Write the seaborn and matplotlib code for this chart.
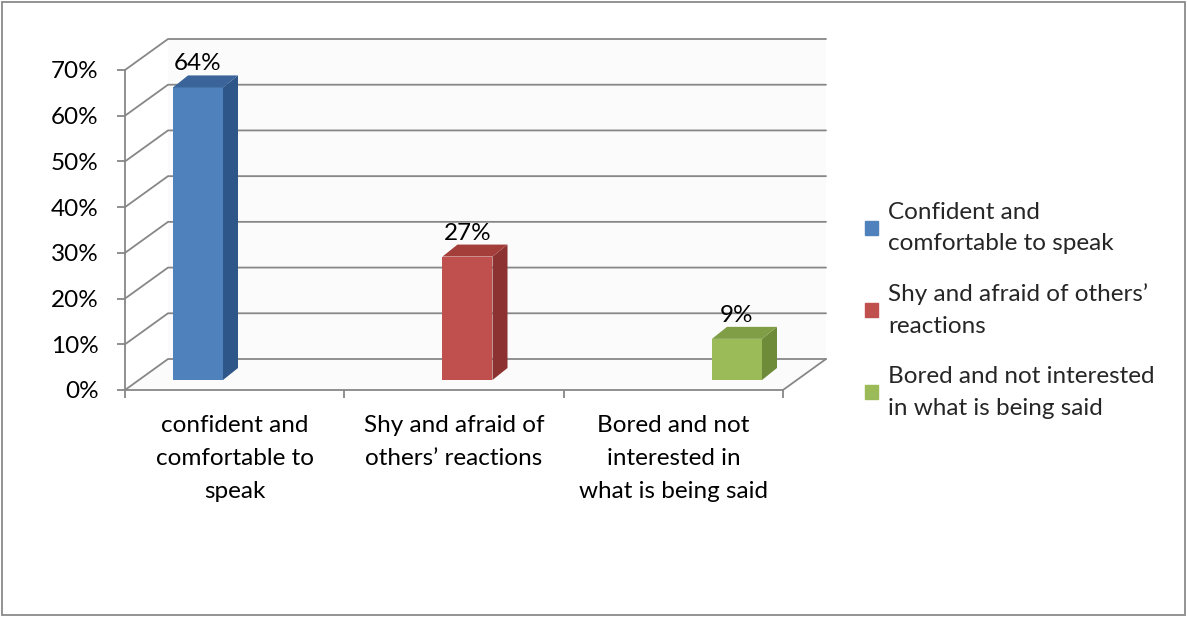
import matplotlib
matplotlib.use("Agg")
import matplotlib.pyplot as plt
import matplotlib.patches as mpatches
from matplotlib.lines import Line2D
from matplotlib.ticker import FixedLocator, FuncFormatter
import seaborn as sns
import pandas as pd

# ---- data -------------------------------------------------------------
categories = [
    "confident and\ncomfortable to\nspeak",
    "Shy and afraid of\nothers\u2019 reactions",
    "Bored and not\ninterested in\nwhat is being said",
]
legend_labels = [
    "Confident and\ncomfortable to speak",
    "Shy and afraid of others\u2019\nreactions",
    "Bored and not interested\nin what is being said",
]
values = [0.64, 0.27, 0.09]
value_labels = ["64%", "27%", "9%"]
y_ticks = [0.0, 0.1, 0.2, 0.3, 0.4, 0.5, 0.6, 0.7]

# ---- styling ----------------------------------------------------------
front_colors = ["#4F81BD", "#C0504D", "#9BBB59"]
side_colors = ["#2F5689", "#8C3331", "#6E8B3A"]
top_colors = ["#3A649A", "#A33E3B", "#7F9E45"]
grid_color = "#878787"
text_color = "#000000"
FONT = "Lato"
FS = 17.5
LINESP_X = 1.70
LINESP_LEG = 1.62

sns.set_theme(style="white")
plt.rcParams["font.family"] = [FONT, "DejaVu Sans"]

W, H = 1187, 617
fig = plt.figure(figsize=(W / 100, H / 100), dpi=100)

# outer chart border
fig.patches.append(mpatches.Rectangle((2 / W, 2 / H), 1183 / W, 613 / H,
                                      transform=fig.transFigure, fill=False,
                                      ec="#8a8a8a", lw=1.3))

# front plane of the 3-D box (carries the axes)
fx0, fx1, fy0, fy1 = 125, 783, 390, 70
ax = fig.add_axes([fx0 / W, (H - fy0) / H, (fx1 - fx0) / W, (fy0 - fy1) / H])
ax.set_xlim(0, 3)
ax.set_ylim(0, 0.7)
ax.patch.set_visible(False)

# depth of the box in pixels, converted to data units
DX, DY = 43, 31
ddx = DX * 3.0 / (fx1 - fx0)
ddy = DY * 0.7 / (fy0 - fy1)

# faint back wall and floor
ax.add_patch(mpatches.Polygon([(ddx, ddy), (3 + ddx, ddy), (3 + ddx, 0.7 + ddy), (ddx, 0.7 + ddy)],
                              closed=True, fc="#fbfbfb", ec="none", clip_on=False, zorder=0))
ax.add_patch(mpatches.Polygon([(0, 0), (3, 0), (3 + ddx, ddy), (ddx, ddy)],
                              closed=True, fc="#fbfbfb", ec="none", clip_on=False, zorder=0))

for y in y_ticks:
    # side-wall diagonal and back-wall gridline
    ax.add_line(Line2D([0, ddx, 3 + ddx], [y, y + ddy, y + ddy], color=grid_color,
                       lw=1.3, clip_on=False, zorder=1))
# right edge of the floor
ax.add_line(Line2D([3, 3 + ddx], [0, ddy], color=grid_color, lw=1.3, clip_on=False, zorder=1))

for s in ["top", "right"]:
    ax.spines[s].set_visible(False)
for s in ["left", "bottom"]:
    ax.spines[s].set_color(grid_color)
    ax.spines[s].set_linewidth(1.3)

ax.yaxis.set_major_locator(FixedLocator(y_ticks))
ax.yaxis.set_major_formatter(FuncFormatter(lambda v, p: f"{v:.0%}"))
ax.tick_params(axis="y", which="major", left=True, length=6, width=1.3, color=grid_color,
               direction="out", pad=13, labelsize=FS, labelcolor=text_color)

ax.xaxis.set_major_locator(FixedLocator([0, 1, 2, 3]))
ax.xaxis.set_major_formatter(FuncFormatter(lambda v, p: ""))
ax.xaxis.set_minor_locator(FixedLocator([0.5, 1.5, 2.5]))
ax.xaxis.set_minor_formatter(FuncFormatter(lambda v, p: categories[int(v)]))
ax.tick_params(axis="x", which="major", bottom=True, length=6, width=1.3, color=grid_color,
               direction="out")
ax.tick_params(axis="x", which="minor", bottom=True, length=0, pad=18, labelsize=FS,
               labelcolor=text_color)
for t in ax.xaxis.get_minor_ticks():
    t.label1.set_linespacing(LINESP_X)

# bar plane (sits slightly behind the front plane)
bx0, bx1, by0, by1 = 63.25, 871.75, 380, 60
axb = fig.add_axes([bx0 / W, (H - by0) / H, (bx1 - bx0) / W, (by0 - by1) / H])
axb.patch.set_visible(False)

df = pd.DataFrame({"category": categories, "value": values})
BAR_W = 50 / 269.5
sns.barplot(data=df, x="category", y="value", hue="category", palette=front_colors,
            width=BAR_W, saturation=1, legend=False, ax=axb, linewidth=0)
axb.set_xlim(-0.5, 2.5)
axb.set_ylim(0, 0.7)
axb.set_axis_off()

# bar depth (pixels -> data)
BDX, BDY = 15, 12
bdx = BDX * 3.0 / (bx1 - bx0)
bdy = BDY * 0.7 / (by0 - by1)

bars = sorted([p for p in axb.patches if p.get_height() > 0], key=lambda p: p.get_x())
for i, p in enumerate(bars):
    x0, w, h = p.get_x(), p.get_width(), p.get_height()
    axb.add_patch(mpatches.Polygon([(x0 + w, 0), (x0 + w + bdx, bdy), (x0 + w + bdx, h + bdy), (x0 + w, h)],
                                   closed=True, fc=side_colors[i], ec="none", clip_on=False))
    axb.add_patch(mpatches.Polygon([(x0, h), (x0 + bdx, h + bdy), (x0 + w + bdx, h + bdy), (x0 + w, h)],
                                   closed=True, fc=top_colors[i], ec="none", clip_on=False))
    axb.text(x0 + w / 2, h + bdy + 5 * 0.7 / (by0 - by1), value_labels[i], ha="center",
             va="baseline", fontsize=FS, color=text_color, clip_on=False)

handles = [mpatches.Patch(color=c) for c in front_colors]
leg = fig.legend(handles, legend_labels, loc="upper left", bbox_to_anchor=(855 / W, 1 - 192 / H),
                 frameon=False, fontsize=FS, handlelength=0.55, handleheight=0.55,
                 handletextpad=0.4, labelspacing=1.2, borderaxespad=0)
for t in leg.get_texts():
    t.set_linespacing(LINESP_LEG)

fig.savefig("out.png", dpi=100)
